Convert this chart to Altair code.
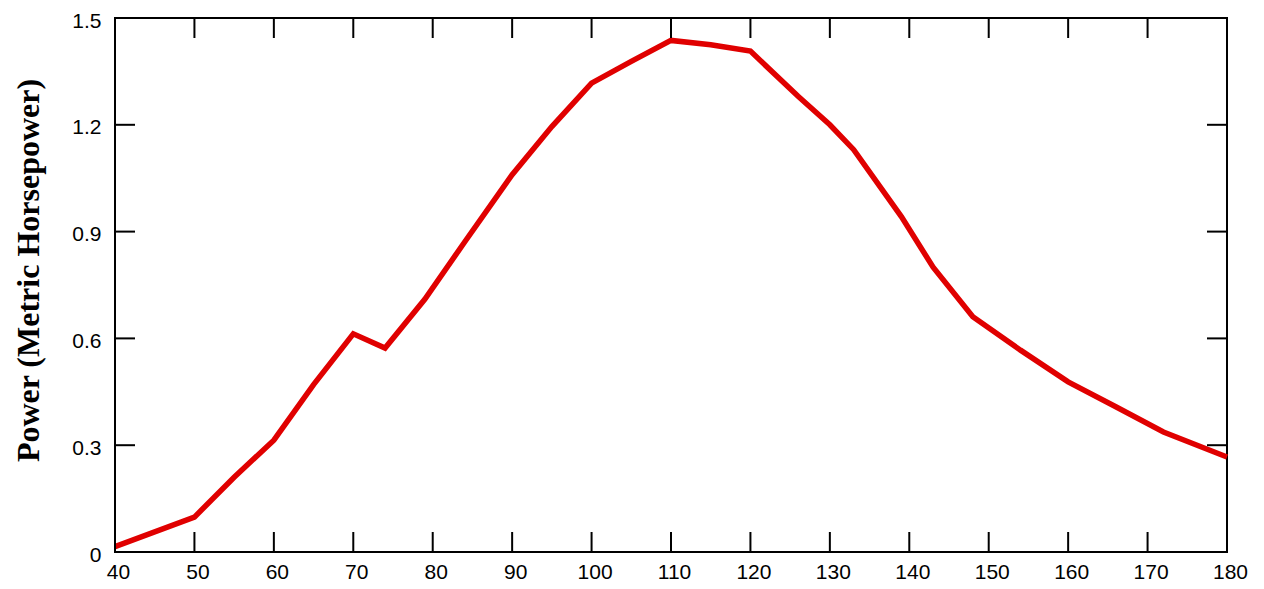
import altair as alt
import pandas as pd

# Speed (x) vs power (Metric Horsepower)
speed = [40, 50, 55, 60, 65, 70, 74, 79, 84, 90, 95, 100, 105, 110, 115, 120,
         126, 130, 133, 139, 143, 148, 154, 160, 166, 172, 180]
power = [0.015, 0.098, 0.21, 0.314, 0.47, 0.613, 0.573, 0.71, 0.87, 1.06, 1.195,
         1.317, 1.378, 1.437, 1.425, 1.407, 1.28, 1.2, 1.13, 0.942, 0.80, 0.661,
         0.567, 0.478, 0.408, 0.337, 0.267]

x_ticks = [40, 50, 60, 70, 80, 90, 100, 110, 120, 130, 140, 150, 160, 170, 180]
y_ticks = [0, 0.3, 0.6, 0.9, 1.2, 1.5]

y_title = "Power (Metric Horsepower)"

W, H = 1112, 534
TICK = 20

df = pd.DataFrame({"speed": speed, "power": power})
dx = pd.DataFrame({"speed": x_ticks})
dy = pd.DataFrame({"power": y_ticks})

xscale = alt.Scale(domain=[40, 180], nice=False, zero=False)
yscale = alt.Scale(domain=[0, 1.5], nice=False, zero=False)

xaxis = alt.Axis(
    values=x_ticks, format="d", title=None, ticks=False, tickSize=0,
    domain=False, grid=False, labelFont="Liberation Sans", labelFontSize=21,
    labelColor="black", labelPadding=9, labelOffset=3,
    labelOverlap=False, labelFlush=False)
yaxis = alt.Axis(
    values=y_ticks, format=".1~f", title=y_title, ticks=False, tickSize=0,
    domain=False, grid=False, labelFont="Liberation Sans", labelFontSize=21,
    labelColor="black", labelPadding=14, labelOffset=3,
    labelOverlap=False, labelFlush=False,
    titleFont="Liberation Serif", titleFontSize=32, titleFontWeight="bold",
    titleColor="black", titleAngle=270, titleAlign="center",
    titleBaseline="alphabetic", titleX=-77, titleY=252)

line = alt.Chart(df).mark_line(
    color="#E00000", strokeWidth=5.5, strokeJoin="miter"
).encode(
    x=alt.X("speed:Q", scale=xscale, axis=xaxis),
    y=alt.Y("power:Q", scale=yscale, axis=yaxis),
)

rule_style = dict(color="black", strokeWidth=2)

xb = alt.Chart(dx).mark_rule(**rule_style).encode(
    x=alt.X("speed:Q", scale=xscale, axis=xaxis),
    y=alt.value(H), y2=alt.value(H - TICK))
xt = alt.Chart(dx).mark_rule(**rule_style).encode(
    x=alt.X("speed:Q", scale=xscale, axis=xaxis),
    y=alt.value(0), y2=alt.value(TICK))
yl = alt.Chart(dy).mark_rule(**rule_style).encode(
    y=alt.Y("power:Q", scale=yscale, axis=yaxis),
    x=alt.value(0), x2=alt.value(TICK))
yr = alt.Chart(dy).mark_rule(**rule_style).encode(
    y=alt.Y("power:Q", scale=yscale, axis=yaxis),
    x=alt.value(W), x2=alt.value(W - TICK))

chart = alt.layer(line, xb, xt, yl, yr).properties(
    width=W, height=H,
    autosize=alt.AutoSizeParams(type="none"),
    padding={"left": 107, "top": 10, "right": 28, "bottom": 29},
    background="white",
).configure_view(stroke="black", strokeWidth=2)

chart.save("out.html", embed_options={"renderer": "svg", "actions": False})
